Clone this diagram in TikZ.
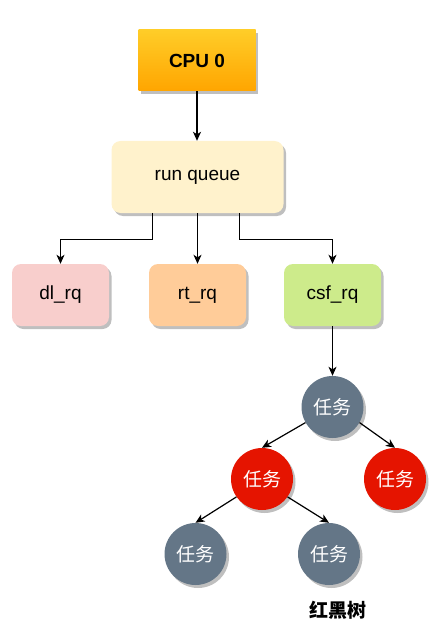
\documentclass[tikz,border=0pt]{standalone}
\usepackage{fontspec}
\setmainfont{Liberation Sans}
\newfontfamily\cjk{Noto Sans CJK SC}
\usetikzlibrary{shadows,arrows.meta,calc}
\definecolor{cpuTop}{RGB}{255,205,40}
\definecolor{cpuBot}{RGB}{255,165,0}
\definecolor{rqFill}{RGB}{255,242,204}
\definecolor{dlFill}{RGB}{248,206,204}
\definecolor{rtFill}{RGB}{255,204,153}
\definecolor{csfFill}{RGB}{205,235,139}
\definecolor{grayNode}{RGB}{100,118,135}
\definecolor{redNode}{RGB}{229,20,0}
\tikzset{
  shad/.style={drop shadow={shadow xshift=2.5pt,shadow yshift=-3pt,opacity=0.25,fill=black}},
  txt/.style={font=\fontsize{19}{22}\selectfont},
  box/.style={shad,txt,rounded corners=9pt,inner sep=0pt},
  rqbox/.style={box,minimum width=97pt,minimum height=62pt},
  task/.style={circle,shad,minimum size=62pt,inner sep=0pt,text=white,font=\fontsize{19}{22}\selectfont\cjk},
  conn/.style={line width=1.2pt,-{Stealth[length=9pt,width=8pt,inset=2.5pt]}}
}
\begin{document}
\begin{tikzpicture}[x=1pt,y=-1pt]
\useasboundingbox (0,0) rectangle (445,631);
\node[shad,txt,font=\fontsize{19}{22}\selectfont\bfseries,top color=cpuTop,bottom color=cpuBot,minimum width=117pt,minimum height=61pt,inner sep=0pt] (cpu) at (197,60.5) {CPU 0};
\node[box,fill=rqFill,minimum width=172pt,minimum height=72pt] (rq) at (197.5,177) {run queue};
\node[rqbox,fill=dlFill] (dl) at (60.5,295) {dl\_rq};
\node[rqbox,fill=rtFill] (rt) at (197.5,295) {rt\_rq};
\node[rqbox,fill=csfFill] (csf) at (332.5,295) {csf\_rq};
\node[task,fill=grayNode] (root) at (332.5,407) {任务};
\node[task,fill=redNode] (l) at (262,479) {任务};
\node[task,fill=redNode] (r) at (395,479) {任务};
\node[task,fill=grayNode] (bl) at (195.5,554) {任务};
\node[task,fill=grayNode] (br) at (329,554) {任务};
\node[font=\fontsize{19}{22}\selectfont\cjk\bfseries] (lab) at (338,610) {红黑树};
\draw[conn] (cpu.south) -- (cpu.south |- rq.north);
\draw[conn] ([xshift=-45pt]rq.south) -- ++(0,26) -| (dl.north);
\draw[conn] (rq.south -| rt.north) -- (rt.north);
\draw[conn] ([xshift=42pt]rq.south) -- ++(0,26) -| (csf.north);
\draw[conn] (csf.south) -- (root.north);
\draw[conn] (root.210) -- (l.north);
\draw[conn] (root.330) -- (r.north);
\draw[conn] (l.215) -- (bl.north);
\draw[conn] (l.325) -- (br.north);
\end{tikzpicture}
\end{document}
